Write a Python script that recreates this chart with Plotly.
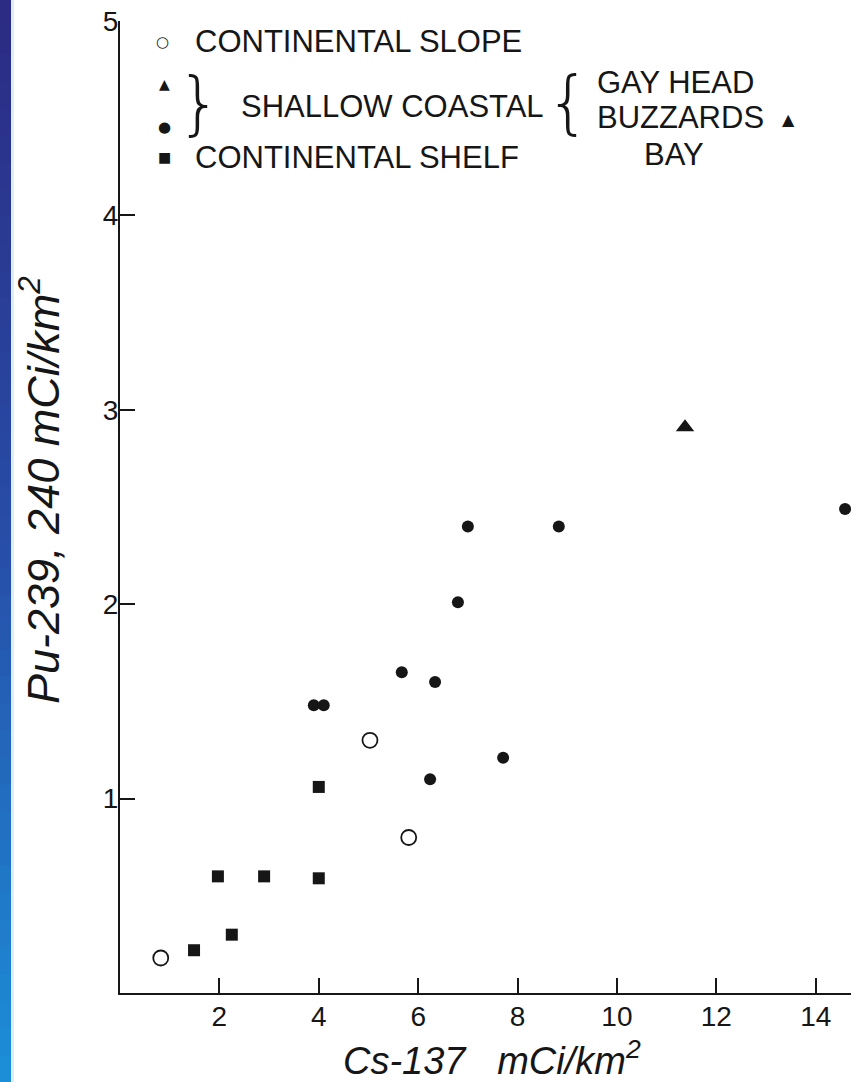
import plotly.graph_objects as go

# ---- data ----
slope_x = [0.82, 5.03, 5.81]
slope_y = [0.18, 1.30, 0.80]

shelf_x = [1.49, 2.25, 1.97, 2.90, 4.00, 4.00]
shelf_y = [0.22, 0.30, 0.60, 0.60, 0.59, 1.06]

buzzards_x = [3.90, 4.10, 5.67, 6.34, 6.24, 6.80, 7.00, 8.83, 7.71, 14.59]
buzzards_y = [1.48, 1.48, 1.65, 1.60, 1.10, 2.01, 2.40, 2.40, 1.21, 2.49]

gayhead_x = [11.37]
gayhead_y = [2.91]

x_tickvals = [2, 4, 6, 8, 10, 12, 14]
x_ticktext = ["2", "4", "6", "8", "10", "12", "14"]
y_tickvals = [1, 2, 3, 4, 5]
y_ticktext = ["1", "2", "3", "4", "5"]

FONT = "Liberation Sans, Arial, sans-serif"
THIN = "DejaVu Sans, Liberation Sans, sans-serif"
SYM = "DejaVu Sans, sans-serif"
INK = "#161616"

W, H = 851, 1082
ML, MR, MT, MB = 120, 0, 21, 89
PW, PH = W - ML - MR, H - MT - MB


def px2paper_x(px):
    return (px - ML) / PW


def px2paper_y(py):
    return (H - MB - py) / PH


fig = go.Figure()

fig.add_trace(go.Scatter(
    x=slope_x, y=slope_y, mode="markers", name="CONTINENTAL SLOPE",
    marker=dict(symbol="circle-open", size=15, color=INK, line=dict(width=1.8, color=INK)),
    cliponaxis=False))
fig.add_trace(go.Scatter(
    x=shelf_x, y=shelf_y, mode="markers", name="CONTINENTAL SHELF",
    marker=dict(symbol="square", size=12, color=INK, line=dict(width=0)),
    cliponaxis=False))
fig.add_trace(go.Scatter(
    x=buzzards_x, y=buzzards_y, mode="markers", name="BUZZARDS BAY",
    marker=dict(symbol="circle", size=12, color=INK, line=dict(width=0)),
    cliponaxis=False))
fig.add_trace(go.Scatter(
    x=gayhead_x, y=gayhead_y, mode="markers", name="GAY HEAD",
    marker=dict(symbol="triangle-up", size=16, color=INK, line=dict(width=0)),
    cliponaxis=False))

# ---- left blue strip (page decoration) ----
top_rgb = (44, 44, 132)
mid_rgb = (40, 78, 168)
bot_rgb = (28, 142, 216)
n = 40
shapes = []
for i in range(n):
    t = i / (n - 1)
    if t < 0.5:
        a, b, u = top_rgb, mid_rgb, t / 0.5
    else:
        a, b, u = mid_rgb, bot_rgb, (t - 0.5) / 0.5
    c = tuple(int(a[k] + (b[k] - a[k]) * u) for k in range(3))
    y0 = H * i / n
    y1 = H * (i + 1) / n + 1
    shapes.append(dict(type="rect", xref="paper", yref="paper",
                       x0=px2paper_x(0), x1=px2paper_x(11),
                       y0=px2paper_y(y1), y1=px2paper_y(y0),
                       line=dict(width=0), fillcolor="rgb(%d,%d,%d)" % c, layer="below"))
shapes.append(dict(type="rect", xref="paper", yref="paper",
                   x0=px2paper_x(11), x1=px2paper_x(14),
                   y0=px2paper_y(H), y1=px2paper_y(0),
                   line=dict(width=0), fillcolor="rgb(220,238,250)", layer="below"))

annotations = []


def txt(text, px, py, size, xanchor="left", angle=0, italic=False, color=INK,
        family=FONT, weight="normal"):
    annotations.append(dict(
        text=text, xref="paper", yref="paper",
        x=px2paper_x(px), y=px2paper_y(py),
        xanchor=xanchor, yanchor="middle", showarrow=False, textangle=angle,
        font=dict(family=family, size=size, color=color, weight=weight,
                  style="italic" if italic else "normal")))


LEG = 31
txt("○", 162, 42, 15, xanchor="center", family=SYM)
txt("CONTINENTAL SLOPE", 193, 42, LEG)
txt("▲", 164, 84, 14, xanchor="center", family=SYM)
txt("●", 164, 127, 15, xanchor="center", family=SYM)
txt("}", 199, 103, 70, xanchor="center", family=THIN, weight=200)
txt("SHALLOW COASTAL", 239, 107, LEG)
txt("{", 568, 102, 70, xanchor="center", family=THIN, weight=200)
txt("GAY HEAD", 595, 82, LEG)
txt("BUZZARDS", 595, 118, LEG)
txt("▲", 788, 119, 16, xanchor="center", family=SYM)
txt("BAY", 642, 155, LEG)
txt("■", 164, 157, 14, xanchor="center", family=SYM)
txt("CONTINENTAL SHELF", 193, 157, LEG)

# axis titles
txt("Cs-137\u00a0\u00a0 mCi/km<sup>2</sup>", 492, 1058, 38, xanchor="center", italic=True)
txt("Pu-239, 240 mCi/km<sup>2</sup>", 40, 490, 45, xanchor="center", angle=-90, italic=True)

fig.update_layout(
    width=W, height=H,
    margin=dict(l=ML, r=MR, t=MT, b=MB, pad=0),
    paper_bgcolor="white", plot_bgcolor="white",
    showlegend=False,
    shapes=shapes, annotations=annotations,
    font=dict(family=FONT, color=INK),
    xaxis=dict(range=[0, 14.71], showgrid=False, zeroline=False, automargin=False,
               showline=True, linecolor=INK, linewidth=2,
               ticks="inside", ticklen=15, tickwidth=1.5, tickcolor=INK,
               tickvals=x_tickvals, ticktext=x_ticktext,
               tickfont=dict(family=FONT, size=28, color=INK),
               ticklabelstandoff=-3),
    yaxis=dict(range=[0, 5], showgrid=False, zeroline=False, automargin=False,
               showline=True, linecolor=INK, linewidth=2,
               ticks="inside", ticklen=15, tickwidth=1.5, tickcolor=INK,
               tickvals=y_tickvals, ticktext=y_ticktext,
               tickfont=dict(family=FONT, size=28, color=INK),
               ticklabelstandoff=-6),
)

fig.write_html("out.html", config={"displayModeBar": False},
               post_script="document.body.style.margin='0px';")
